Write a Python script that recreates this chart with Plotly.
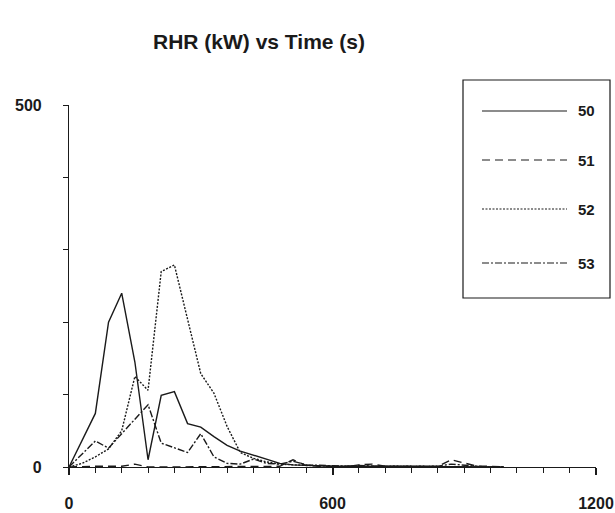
import plotly.graph_objects as go

# time (s) and rate of heat release (kW)
time_s = [0, 30, 60, 90, 120, 150, 180, 210, 240, 270, 300, 330, 360, 390,
          420, 450, 480, 510, 540, 570, 600, 630, 660, 690, 720, 750, 780,
          810, 840, 870, 900, 930, 960, 990]

rhr_50 = [0, 37, 74, 200, 240, 145, 10, 99, 104, 60, 55, 42, 30, 22,
          16, 10, 5, 3, 2, 2, 1, 1, 1, 1, 1, 1, 1, 1, 1, 1, 1, 1, 0, 0]
rhr_51 = [0, 1, 1, 1, 1, 4, 0, 0, 0, 0, 0, 0, 0, 0,
          0, 0, 1, 10, 2, 1, 1, 0, 3, 4, 1, 1, 1, 1, 1, 10, 6, 1, 1, 0]
rhr_52 = [0, 5, 14, 25, 50, 125, 106, 270, 279, 205, 129, 102, 56, 20,
          12, 7, 4, 3, 2, 1, 1, 1, 1, 1, 1, 1, 1, 1, 1, 1, 1, 1, 0, 0]
rhr_53 = [0, 18, 36, 26, 46, 67, 86, 33, 26, 20, 46, 14, 5, 4,
          11, 5, 4, 8, 3, 2, 1, 1, 2, 1, 1, 1, 1, 1, 1, 4, 2, 1, 0, 0]

series_names = ['50', '51', '52', '53']
series_values = [rhr_50, rhr_51, rhr_52, rhr_53]
dashes = ['solid', '8px,5px', '2px,1.5px', '7px,2px,2px,2px']

INK = '#1a1a1a'
FONT = 'Liberation Sans, Arial, sans-serif'

W, H = 615, 513
PW, PH = 527, 362      # plot area in px, left/top edge at (69, 105)

fig = go.Figure()
for name, vals, dash in zip(series_names, series_values, dashes):
    fig.add_trace(go.Scatter(x=time_s, y=vals, mode='lines', name=name,
                             line=dict(color=INK, width=1.4, dash=dash),
                             showlegend=False, hoverinfo='skip'))


def px_x(page_x):
    return (page_x - 69) / PW


def px_y(page_y):
    return (467 - page_y) / PH


# hand-drawn legend box so the line samples can be long like the original
legend_ys = [111, 160, 209, 263]
shapes = [dict(type='rect', xref='paper', yref='paper',
               x0=px_x(463), x1=px_x(610), y0=px_y(298), y1=px_y(80),
               line=dict(color=INK, width=1.2), fillcolor='white', layer='above')]
annotations = []
for name, dash, py in zip(series_names, dashes, legend_ys):
    shapes.append(dict(type='line', xref='paper', yref='paper',
                       x0=px_x(482), x1=px_x(567), y0=px_y(py), y1=px_y(py),
                       line=dict(color=INK, width=1.2, dash=dash), layer='above'))
    annotations.append(dict(xref='paper', yref='paper', x=px_x(576), y=px_y(py),
                            text='<b>%s</b>' % name, showarrow=False,
                            xanchor='left', yanchor='middle',
                            font=dict(size=15, color=INK, family=FONT)))

fig.update_layout(
    width=W, height=H,
    margin=dict(l=69, r=W - 69 - PW, t=105, b=H - 105 - PH),
    paper_bgcolor='white', plot_bgcolor='white',
    font=dict(family=FONT, color=INK),
    title=dict(text='RHR (kW) vs Time (s)', x=259 / W, xanchor='center',
               xref='container', y=1 - 42 / H, yanchor='middle',
               font=dict(size=21, color=INK, family=FONT, weight='bold')),
    xaxis=dict(range=[0, 1200], tickvals=[0, 600, 1200], showgrid=False,
               zeroline=False, showline=True, linecolor=INK, linewidth=1.2,
               automargin=False,
               ticks='outside', ticklen=7, tickwidth=1.5, tickcolor=INK,
               minor=dict(dtick=60, ticks='outside', ticklen=5, tickcolor=INK,
                          tickwidth=1, showgrid=False),
               ticklabelstandoff=15,
               tickfont=dict(size=16, weight='bold', color=INK, family=FONT)),
    yaxis=dict(range=[0, 500], tickvals=[0, 500], showgrid=False,
               zeroline=False, showline=True, linecolor=INK, linewidth=1.2,
               automargin=False,
               ticks='outside', ticklen=5, tickwidth=1, tickcolor=INK,
               minor=dict(dtick=100, ticks='outside', ticklen=5, tickcolor=INK,
                          tickwidth=1, showgrid=False),
               ticklabelstandoff=18,
               tickfont=dict(size=16, weight='bold', color=INK, family=FONT)),
    shapes=shapes,
    annotations=annotations,
)

# the page body's default 8px margin would push the figure off the window
fig.write_html("out.html", config={'displayModeBar': False},
               post_script="document.body.style.margin = '0';")
